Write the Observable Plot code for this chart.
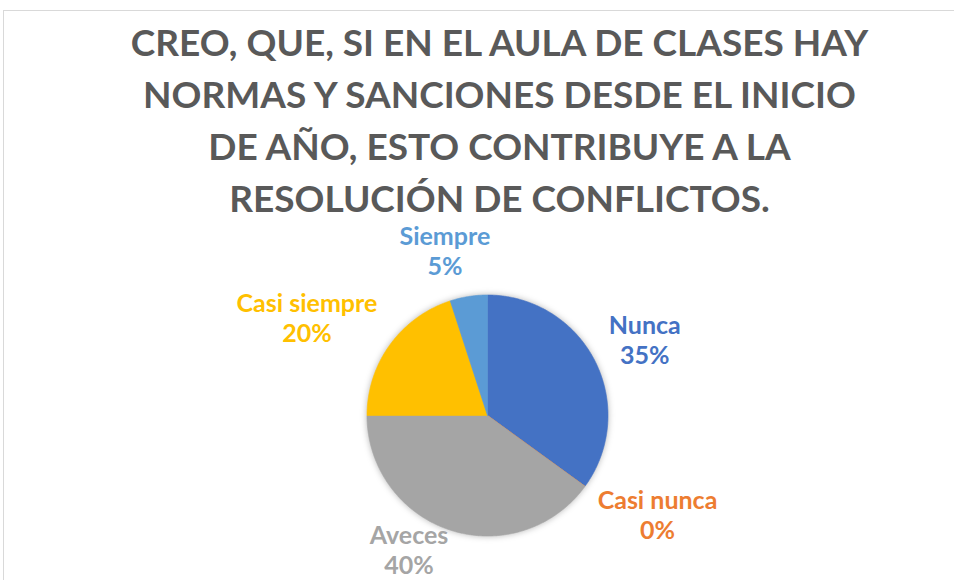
<!DOCTYPE html>
<html>
<head>
<meta charset="utf-8">
<script src="https://cdn.jsdelivr.net/npm/d3@7"></script>
<script src="https://cdn.jsdelivr.net/npm/@observablehq/plot@0.6"></script>
<style>
html, body { margin: 0; padding: 0; background: #fff; }
#wrap { position: relative; width: 954px; height: 580px; overflow: hidden; background: #fff; font-family: Lato, "Open Sans", sans-serif; }
#frame { position: absolute; left: 3px; top: 10px; right: -4px; bottom: -4px; border-top: 1px solid #d9d9d9; border-left: 1px solid #d9d9d9; }
#title { position: absolute; left: 45px; top: 16px; width: 909px; text-align: center; color: #595959; font-weight: 700; line-height: 52px; white-space: nowrap; }
#chart { position: absolute; left: 0; top: 226px; }
</style>
</head>
<body>
<div id="wrap">
  <div id="frame"></div>
  <div id="title"></div>
  <div id="chart"></div>
</div>
<script>
// ---- data ----
const titleLines = [
  "CREO, QUE, SI EN EL AULA DE CLASES HAY",
  "NORMAS Y SANCIONES DESDE EL INICIO",
  "DE AÑO, ESTO CONTRIBUYE A LA",
  "RESOLUCIÓN DE CONFLICTOS."
];
const categories = ["Nunca", "Casi nunca", "Aveces", "Casi siempre", "Siempre"];
const percents = [35, 0, 40, 20, 5];
const palette = ["#4472C4", "#ED7D31", "#A5A5A5", "#FFC000", "#5B9BD5"];

// ---- title ----
const canvas = document.createElement("canvas");
const ctx = canvas.getContext("2d");
ctx.font = "bold 100px Lato";
const w100 = ctx.measureText(titleLines[0]).width;
const titleSize = Math.min(37, 748 / w100 * 100);
const titleEl = document.getElementById("title");
titleEl.style.fontSize = titleSize + "px";
titleEl.innerHTML = titleLines.join("<br>");

// ---- pie geometry (pixel units, centre at origin, y up) ----
const W = 954, H = 354;
const cxPx = 487, cyPx = 189;   // pie centre inside the svg
const R = 120.5;
const arcs = d3.pie().sort(null).startAngle(0).endAngle(2 * Math.PI)(percents);

const piePts = [];
arcs.forEach((a, i) => {
  const name = categories[i];
  piePts.push({name, x: 0, y: 0});
  const n = Math.max(2, Math.ceil((a.endAngle - a.startAngle) / (Math.PI / 360)));
  for (let k = 0; k <= n; k++) {
    const t = a.startAngle + (a.endAngle - a.startAngle) * k / n;
    piePts.push({name, x: R * Math.sin(t), y: R * Math.cos(t)});
  }
  piePts.push({name, x: 0, y: 0});
});

// ---- labels (outside end, best fit) ----
const labelSize = 25;
ctx.font = `bold ${labelSize}px Lato`;
const hh = 31;
const bottomLimit = -(H - cyPx);
const labels = arcs.map((a, i) => {
  const name = categories[i];
  const pct = percents[i] + "%";
  const w = Math.max(ctx.measureText(name).width, ctx.measureText(pct).width);
  const hw = w / 2;
  const m = (a.startAngle + a.endAngle) / 2;
  const s = Math.sin(m), c = Math.cos(m);
  let x = s * R * 1.13 + Math.sign(s) * hw * Math.min(1, Math.abs(s) * 3);
  let y = c * R * 1.39;
  if (y - hh < bottomLimit) y = bottomLimit + hh;
  return {name, text: name + "\n" + pct, x, y};
});

const plot = Plot.plot({
  width: W,
  height: H,
  margin: 0,
  style: {background: "transparent", overflow: "visible"},
  x: {domain: [-cxPx, W - cxPx], range: [0, W], axis: null},
  y: {domain: [-(H - cyPx), cyPx], range: [H, 0], axis: null},
  color: {domain: categories, range: palette},
  marks: [
    Plot.line(piePts, {x: "x", y: "y", z: "name", fill: "name", stroke: "name", strokeWidth: 0.6, curve: "linear"}),
    Plot.text(labels, {
      x: "x", y: "y", text: "text", fill: "name",
      fontSize: labelSize, fontWeight: "bold", fontFamily: "Lato, 'Open Sans', sans-serif",
      lineHeight: 1.2, textAnchor: "middle"
    })
  ]
});
const lineG = plot.querySelector('g[aria-label="line"]');
if (lineG) lineG.style.filter = "drop-shadow(0px 0px 3px rgba(0,0,0,0.28))";
document.getElementById("chart").appendChild(plot);
</script>
</body>
</html>
